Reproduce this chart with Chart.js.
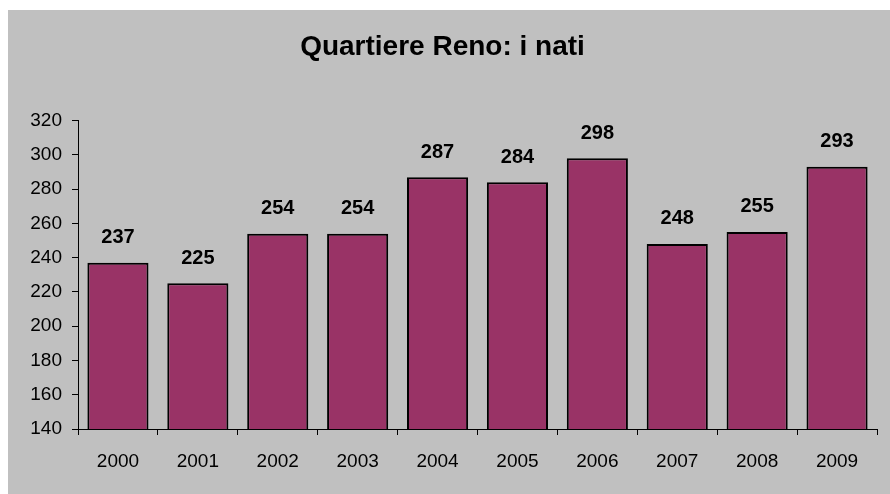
<!DOCTYPE html>
<html>
<head>
<meta charset="utf-8">
<script src="https://cdn.jsdelivr.net/npm/chart.js@4"></script>
<style>
  html, body { margin: 0; padding: 0; background: #fff; }
  #wrap { position: absolute; left: 8px; top: 10px; width: 882px; height: 484px; background: #c0c0c0; }
</style>
</head>
<body>
<div id="wrap"><canvas id="chart"></canvas></div>
<script>
"use strict";

const years = ['2000', '2001', '2002', '2003', '2004', '2005', '2006', '2007', '2008', '2009'];
const births = [237, 225, 254, 254, 287, 284, 298, 248, 255, 293];
const yMin = 140;
const yMax = 320;
const yStep = 20;

// draws the value above each bar
const valueLabels = {
  id: 'valueLabels',
  afterDatasetsDraw(chart) {
    const ctx = chart.ctx;
    const meta = chart.getDatasetMeta(0);
    ctx.save();
    ctx.font = 'bold 20px "Liberation Sans", Arial, sans-serif';
    ctx.fillStyle = '#000';
    ctx.textAlign = 'center';
    ctx.textBaseline = 'middle';
    meta.data.forEach((bar, i) => {
      ctx.fillText(String(births[i]), bar.x, bar.y - 25);
    });
    ctx.restore();
  }
};

new Chart(document.getElementById('chart'), {
  type: 'bar',
  data: {
    labels: years,
    datasets: [{
      data: births,
      backgroundColor: '#993366',
      borderColor: '#000',
      borderWidth: 2,
      barPercentage: 0.765,
      categoryPercentage: 1
    }]
  },
  options: {
    responsive: true,
    maintainAspectRatio: false,
    animation: false,
    layout: { padding: { left: 0, right: 13, top: 0, bottom: 0 } },
    plugins: {
      legend: { display: false },
      tooltip: { enabled: false },
      title: {
        display: true,
        text: 'Quartiere Reno: i nati',
        color: '#000',
        font: { family: '"Liberation Sans", Arial, sans-serif', size: 28, weight: 'bold' },
        padding: { top: 20, bottom: 57 }
      }
    },
    scales: {
      x: {
        afterFit(scale) { scale.height = 65; },
        grid: { offset: true, drawOnChartArea: false, drawTicks: true, tickLength: 6, color: '#000' },
        border: { display: true, color: '#000', width: 1 },
        ticks: {
          color: '#000',
          padding: 15,
          font: { family: '"Liberation Sans", Arial, sans-serif', size: 19 }
        }
      },
      y: {
        min: yMin,
        max: yMax,
        afterFit(scale) { scale.width = 70; },
        grid: { drawOnChartArea: false, drawTicks: true, tickLength: 6, color: '#000' },
        border: { display: true, color: '#000', width: 1 },
        ticks: {
          stepSize: yStep,
          color: '#000',
          padding: 10,
          font: { family: '"Liberation Sans", Arial, sans-serif', size: 19 }
        }
      }
    }
  },
  plugins: [valueLabels]
});
</script>
</body>
</html>
